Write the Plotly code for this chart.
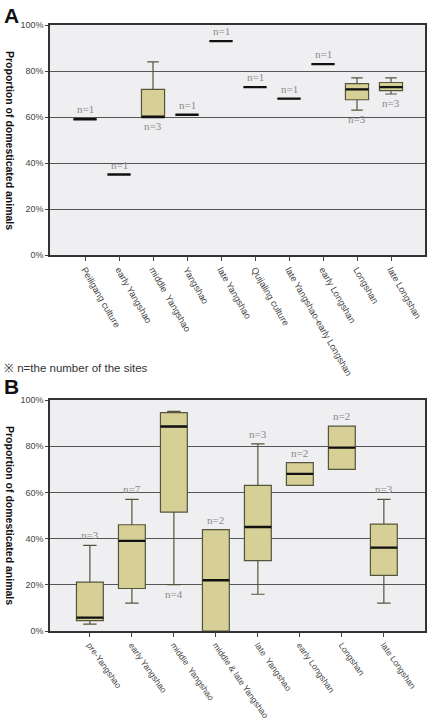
import plotly.graph_objects as go

# ---------------- Panel A data ----------------
catsA = ["Peiligang culture", "early Yangshao", "middle\u00a0\u00a0Yangshao", "Yangshao",
         "late Yangshao", "Quijaling culture", "late Yangshao-early Longshan",
         "early Longshan", "Longshan", "late Longshan"]
A_low = [59, 35, 60, 61, 93, 73, 68, 83, 63, 70]
A_q1 = [59, 35, 60, 61, 93, 73, 68, 83, 67.5, 71.5]
A_med = [59, 35, 60, 61, 93, 73, 68, 83, 72, 73]
A_q3 = [59, 35, 72, 61, 93, 73, 68, 83, 74.5, 75]
A_high = [59, 35, 84, 61, 93, 73, 68, 83, 77, 77]
A_n = [1, 1, 3, 1, 1, 1, 1, 1, 3, 3]
A_lab = ["above", "above", "below", "above", "above", "above", "above", "above", "below", "below"]

# ---------------- Panel B data ----------------
catsB = ["pre-Yangshao", "early Yangshao", "middle\u00a0\u00a0Yangshao", "middle & late Yangshao",
         "late\u00a0\u00a0Yangshao", "early Longshan", "Longshan", "late Longshan"]
B_low = [3.0, 12.1, 20.1, 0, 15.9, 63, 70, 12.1]
B_q1 = [4.5, 18.4, 51.5, 0, 30.5, 63, 70, 24.1]
B_med = [5.8, 39, 88.5, 22, 45, 68, 79.4, 36.1]
B_q3 = [21.2, 46, 94.5, 43.9, 63, 72.9, 88.7, 46.3]
B_high = [37.1, 57, 95.1, 43.9, 81, 72.9, 88.7, 57]
B_n = [3, 7, 4, 2, 3, 2, 2, 3]
B_lab = ["above", "above", "below", "above", "above", "above", "above", "above"]

yticks = [0, 20, 40, 60, 80, 100]
ytick_text = [f"{v}%" for v in yticks]

BOX_FILL = "#d6cf96"
BOX_LINE = "#55553c"
PLOT_BG = "#efeef0"
GRID = "#555555"

fig = go.Figure()


def add_panel(cats, low, q1, med, q3, high, ns, labs, xa, ya, width):
    idx = list(range(len(cats)))
    fig.add_trace(go.Box(
        x=idx, q1=q1, median=med, q3=q3, lowerfence=low, upperfence=high,
        width=width, whiskerwidth=0.5, fillcolor=BOX_FILL,
        line=dict(color=BOX_LINE, width=1.2), xaxis=xa, yaxis=ya,
        hoverinfo="skip", showlegend=False, boxpoints=False))
    # thick medians
    fig.add_trace(go.Box(
        x=idx, q1=med, median=med, q3=med, lowerfence=med, upperfence=med,
        width=width, fillcolor="rgba(0,0,0,0)",
        line=dict(color="#111111", width=2.4), xaxis=xa, yaxis=ya,
        hoverinfo="skip", showlegend=False, boxpoints=False))
    xref = "x" if xa == "x" else "x2"
    yref = "y" if ya == "y" else "y2"
    for i, n in enumerate(ns):
        if labs[i] == "above":
            fig.add_annotation(x=i, y=high[i], xref=xref, yref=yref, text=f"n={n}",
                               showarrow=False, yanchor="bottom", yshift=2,
                               font=dict(family="Liberation Serif", size=11, color="#8a8a8a"))
        else:
            fig.add_annotation(x=i, y=low[i], xref=xref, yref=yref, text=f"n={n}",
                               showarrow=False, yanchor="top", yshift=-1,
                               font=dict(family="Liberation Serif", size=11, color="#8a8a8a"))


add_panel(catsA, A_low, A_q1, A_med, A_q3, A_high, A_n, A_lab, "x", "y", 0.68)
add_panel(catsB, B_low, B_q1, B_med, B_q3, B_high, B_n, B_lab, "x2", "y2", 0.64)

xdom = [50 / 429, 425 / 429]

common_x = dict(showgrid=False, zeroline=False, showline=True, linecolor="#333333", linewidth=1.5,
                mirror=True, ticks="outside", ticklen=4, tickcolor="#444444",
                domain=xdom, automargin=False)
common_y = dict(range=[0, 100], tickvals=yticks, ticktext=ytick_text, showgrid=True, gridcolor=GRID,
                gridwidth=1, zeroline=False, showline=True, linecolor="#333333", linewidth=1.5,
                mirror=True, ticks="outside", ticklen=3, tickcolor="#444444",
                tickfont=dict(family="Liberation Sans", size=9, color="#444444"),
                automargin=False)

fig.update_layout(
    template="none",
    width=429, height=719, margin=dict(l=0, r=0, t=0, b=0, autoexpand=False),
    paper_bgcolor="white", plot_bgcolor=PLOT_BG, boxmode="overlay",
    xaxis=dict(**common_x, range=[-1.03, 10.0], tickvals=list(range(len(catsA))), ticktext=catsA,
               tickangle=60, tickfont=dict(family="Liberation Sans", size=9.2, color="#444444"),
               anchor="y"),
    yaxis=dict(**common_y, domain=[1 - 255 / 719, 1 - 25 / 719], anchor="x"),
    xaxis2=dict(**common_x, range=[-0.95, 7.98], tickvals=list(range(len(catsB))), ticktext=catsB,
                tickangle=55, tickfont=dict(family="Liberation Sans", size=8.6, color="#444444"),
                anchor="y2"),
    yaxis2=dict(**common_y, domain=[1 - 631 / 719, 1 - 400 / 719], anchor="x2"),
)

# titles and labels
for ymid in [140, 515]:
    fig.add_annotation(x=10 / 429, y=1 - ymid / 719, xref="paper", yref="paper",
                       xanchor="center", yanchor="middle",
                       text="<b>Proportion of domesticated animals</b>", textangle=90,
                       showarrow=False, font=dict(family="Liberation Sans", size=10.5, color="#111111"))

fig.add_annotation(x=2 / 429, y=1 - 2 / 719, xref="paper", yref="paper", text="<b>A</b>",
                   showarrow=False, xanchor="left", yanchor="top",
                   font=dict(family="Liberation Sans", size=21, color="#111111"))
fig.add_annotation(x=2 / 429, y=1 - 373 / 719, xref="paper", yref="paper", text="<b>B</b>",
                   showarrow=False, xanchor="left", yanchor="top",
                   font=dict(family="Liberation Sans", size=21, color="#111111"))
fig.add_annotation(x=2 / 429, y=1 - 368 / 719, xref="paper", yref="paper",
                   text="※ n=the number of the sites", showarrow=False, xanchor="left", yanchor="middle",
                   font=dict(family="Liberation Sans", size=11.5, color="#333333"))

fig.write_html("out.html", config={"displayModeBar": False},
               post_script="document.body.style.margin='0';document.body.style.overflow='hidden';")
